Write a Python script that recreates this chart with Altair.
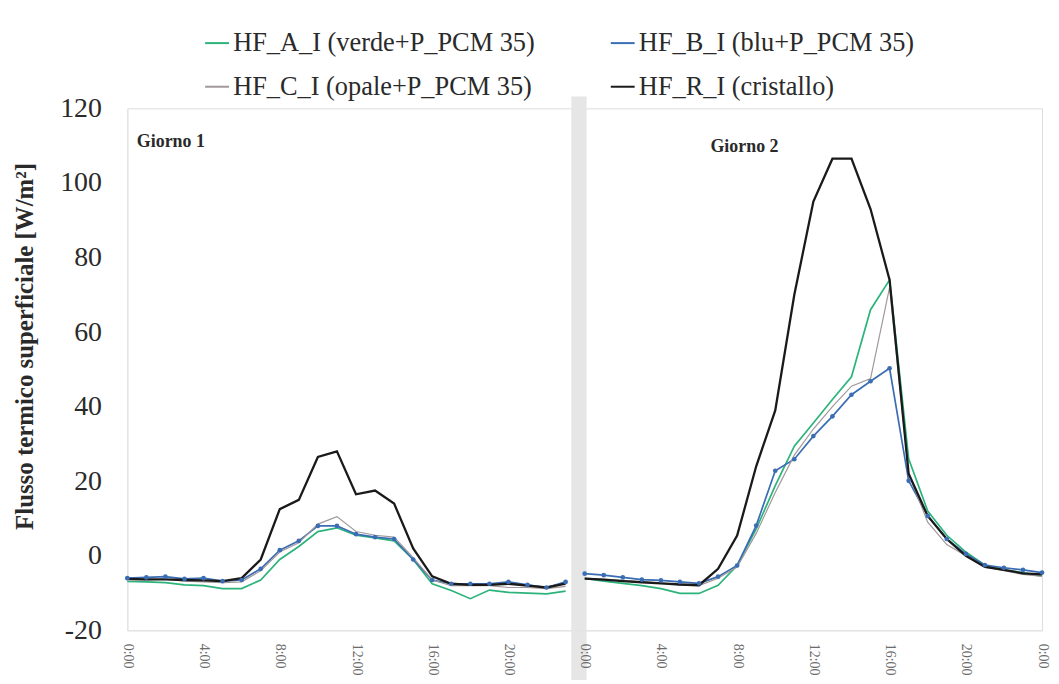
import altair as alt
import pandas as pd

# ---- data ----
series_names = ["HF_A_I (verde+P_PCM 35)", "HF_B_I (blu+P_PCM 35)",
                "HF_C_I (opale+P_PCM 35)", "HF_R_I (cristallo)"]
series_colors = ["#2bb37b", "#3a6db3", "#a0989a", "#1a1a1a"]
series_widths = [1.7, 1.7, 1.2, 2.3]
# legend is filled column by column: A, C in column 1; B, R in column 2
legend_order = [series_names[0], series_names[2], series_names[1], series_names[3]]
legend_colors = [series_colors[0], series_colors[2], series_colors[1], series_colors[3]]

hours_day1 = list(range(0, 24))          # 0:00 .. 23:00 of day 1
hours_day2 = list(range(24, 49))         # 0:00 .. 24:00 of day 2

A_d1 = [-6.9, -7, -7.2, -7.8, -8, -8.8, -8.8, -6.5, -1, 2.5, 6.5, 7.5, 5.5, 4.8, 4, -1,
        -7.5, -9.3, -11.5, -9.2, -9.8, -10, -10.2, -9.5]
B_d1 = [-6, -5.8, -5.6, -6.2, -6, -6.8, -6.5, -3.5, 1.5, 4, 8, 8, 5.8, 5, 4.5, -1,
        -6.5, -7.5, -7.5, -7.5, -7, -7.8, -8.5, -7]
C_d1 = [-6.5, -6.5, -6.3, -6.8, -7, -7.2, -7, -4, 1, 3.5, 8.5, 10.5, 6.5, 5.5, 5, -0.5,
        -6.5, -8, -8, -8, -8.5, -8.5, -8.8, -8.2]
R_d1 = [-6.2, -6.3, -6.3, -6.5, -6.6, -6.8, -6, -1, 12.5, 15, 26.5, 28, 16.5, 17.5, 14, 2,
        -5.5, -7.5, -7.8, -7.8, -7.5, -8, -8.5, -7.5]

A_d2 = [-6.1, -6.8, -7.4, -8, -8.8, -10.1, -10.1, -7.9, -2.6, 7.2, 18.8, 29.4, 35.6, 41.9,
        48, 66, 74, 26, 12, 5.5, 1, -2.5, -3.8, -4.5, -5.5]
B_d2 = [-4.8, -5.2, -5.8, -6.4, -6.6, -7, -7.4, -5.6, -2.6, 8.1, 22.8, 25.9, 32.1, 37.4,
        43.2, 46.8, 50.3, 20.1, 10.7, 4.5, 0.5, -2.5, -3.2, -3.8, -4.5]
C_d2 = [-6, -6.3, -6.6, -7, -7.3, -7.8, -8, -6, -3, 6, 17, 27, 34, 40, 45.5, 47.5, 72, 22,
        9, 3, 0, -3, -4, -5, -5.5]
R_d2 = [-6.1, -6.4, -6.8, -7.1, -7.4, -7.7, -7.9, -3.5, 5.4, 24, 39, 70, 95, 106.5, 106.5,
        93, 74, 22, 10.7, 4.5, 0, -3, -3.8, -4.7, -5]

x_tick_values = [0, 4, 8, 12, 16, 20, 24, 28, 32, 36, 40, 44, 48]
y_tick_values = [-20, 0, 20, 40, 60, 80, 100, 120]

day_labels = ["Giorno 1", "Giorno 2"]
day_label_x = [0.5, 30.6]
day_label_y = [111, 109.5]

band_start = [23.3]
band_end = [24.1]

# ---- build table ----
rows = []
for name, d1, d2 in zip(series_names, [A_d1, B_d1, C_d1, R_d1], [A_d2, B_d2, C_d2, R_d2]):
    for h, v in zip(hours_day1, d1):
        rows.append({"hour": h, "value": v, "series": name, "day": "1"})
    for h, v in zip(hours_day2, d2):
        rows.append({"hour": h, "value": v, "series": name, "day": "2"})
df = pd.DataFrame(rows)

serif = "Liberation Serif"

x_enc = alt.X("hour:Q",
              scale=alt.Scale(domain=[0, 48], nice=False, zero=False),
              axis=alt.Axis(values=x_tick_values, labelExpr="(datum.value % 24) + ':00'",
                            labelAngle=90, title=None, ticks=False, grid=False,
                            labelFont=serif, labelFontSize=14, labelColor="#6b6b6b",
                            labelPadding=13, domainColor="#e3e3e3", zindex=1))
y_enc = alt.Y("value:Q",
              scale=alt.Scale(domain=[-20, 120], nice=False, zero=False),
              axis=alt.Axis(values=y_tick_values, labelExpr="'' + datum.value",
                            title="Flusso termico superficiale [W/m²]",
                            ticks=False, grid=False, labelFont=serif, labelFontSize=28,
                            labelColor="#2a2a2a", labelPadding=26,
                            titleFont=serif, titleFontSize=25, titleFontWeight="bold",
                            titleColor="#2a2a2a", titleX=-103, titleY=239,
                            titleAngle=270, titleAlign="center", titleBaseline="middle",
                            domainColor="#e3e3e3"))

color_enc = alt.Color("series:N", sort=legend_order,
                      scale=alt.Scale(domain=legend_order, range=legend_colors),
                      legend=alt.Legend(title=None, orient="none", legendX=77, legendY=-79,
                                        columns=2, columnPadding=72, rowPadding=17,
                                        symbolType="stroke", symbolSize=576,
                                        symbolStrokeWidth=2, labelOffset=3,
                                        labelFont=serif, labelFontSize=26.5,
                                        labelColor="#2a2a2a", labelLimit=0))

band = alt.Chart(pd.DataFrame({"x0": band_start, "x1": band_end})).mark_rect(
    color="#e6e6e6").encode(x="x0:Q", x2="x1:Q", y=alt.value(-12), y2=alt.value(580))

line_layers = []
for name, w in zip(series_names, series_widths):
    line_layers.append(
        alt.Chart(df).transform_filter(alt.datum.series == name)
        .mark_line(strokeWidth=w)
        .encode(x=x_enc, y=y_enc, color=color_enc, detail="day:N")
    )

points = alt.Chart(df).transform_filter(
    alt.datum.series == series_names[1]
).mark_point(filled=True, size=22, color="#3a6db3", opacity=1).encode(x="hour:Q", y="value:Q")

labels = alt.Chart(pd.DataFrame({"x": day_label_x, "y": day_label_y, "t": day_labels})).mark_text(
    font=serif, fontSize=18, fontWeight="bold", align="left", baseline="middle",
    color="#2a2a2a").encode(x="x:Q", y="y:Q", text="t:N")

chart = alt.layer(band, *line_layers, points, labels).properties(
    width=920, height=525,
    autosize=alt.AutoSizeParams(type="none"),
    padding={"left": 120, "top": 99, "right": 9, "bottom": 48},
).configure_view(stroke=None).configure(background="white", font=serif).configure_legend(
    labelFont=serif)

chart.save("out.html", embed_options={"renderer": "svg", "actions": False})
